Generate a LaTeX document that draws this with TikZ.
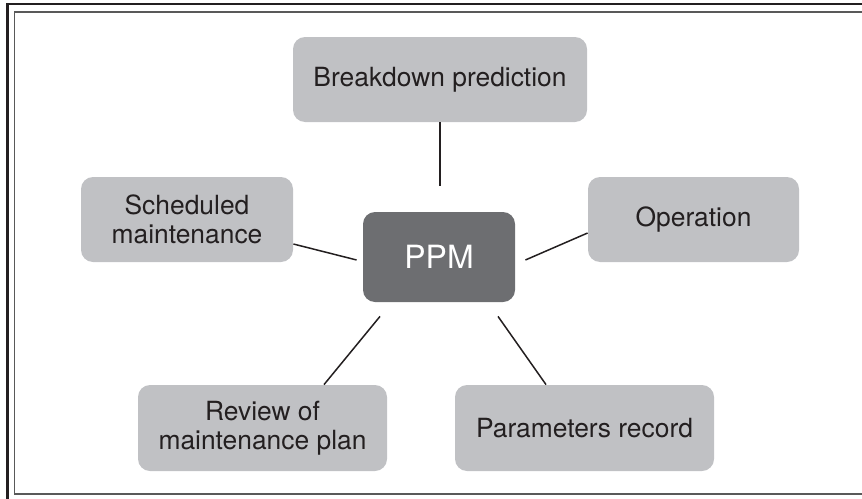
\documentclass[tikz,border=0pt]{standalone}
\usepackage{fontspec}
\setmainfont{TeX Gyre Heros}
\usetikzlibrary{calc}
\definecolor{boxgray}{RGB}{192,193,196}
\definecolor{hubgray}{RGB}{109,110,113}
\definecolor{ink}{RGB}{35,31,32}

\begin{document}
\begin{tikzpicture}[x=0.5pt, y=-0.5pt, font=\fontsize{13.2}{14.4}\selectfont, text=ink,
    main/.style = {fill=boxgray, rounded corners=6pt, align=center, inner sep=0pt, minimum height=42.5pt},
    hub/.style = {fill=hubgray, rounded corners=6pt, inner sep=0pt, text=white, font=\fontsize{16}{18}\selectfont},
    link/.style = {draw=ink, line width=0.75pt}]
                \clip (0,0) rectangle (862,498);
                % frames
                \draw[ink, line width=1.25pt] (7.5,4) rectangle (880,510);
                \draw[black!65, line width=0.75pt] (14.5,12) rectangle (880,494);
                % nodes
                \node[hub, minimum width=76pt, minimum height=45pt] (ppm) at (439,257) {PPM};
                \node[main, minimum width=147pt] (bp) at (440,79.5) {Breakdown prediction};
                \node[main, minimum width=106pt] (sm) at (187,219.5) {Scheduled\\maintenance};
                \node[main, minimum width=105.5pt] (op) at (693.5,219.5) {Operation};
                \node[main, minimum width=124.5pt, minimum height=43pt] (rev) at (262.5,428) {Review of\\maintenance plan};
                \node[main, minimum width=129.5pt, minimum height=43pt] (par) at (584.5,428) {Parameters record};
                % links
                \draw[link, shorten >=13pt] (bp.south) -- (bp.south |- ppm.north);
                \draw[link] ($(sm.east)+(0,24.5)$) -- ($(ppm.west)+(-6,3)$);
                \draw[link] ($(ppm.east)+(10,3)$) -- ($(op.west)+(0,13.5)$);
                \draw[link] ($(ppm.south)+(-59,14)$) -- ($(rev.north)+(61.5,0)$);
                \draw[link] ($(ppm.south)+(59,14)$) -- ($(par.north)+(-38.5,0)$);
            \end{tikzpicture}
\end{document}
